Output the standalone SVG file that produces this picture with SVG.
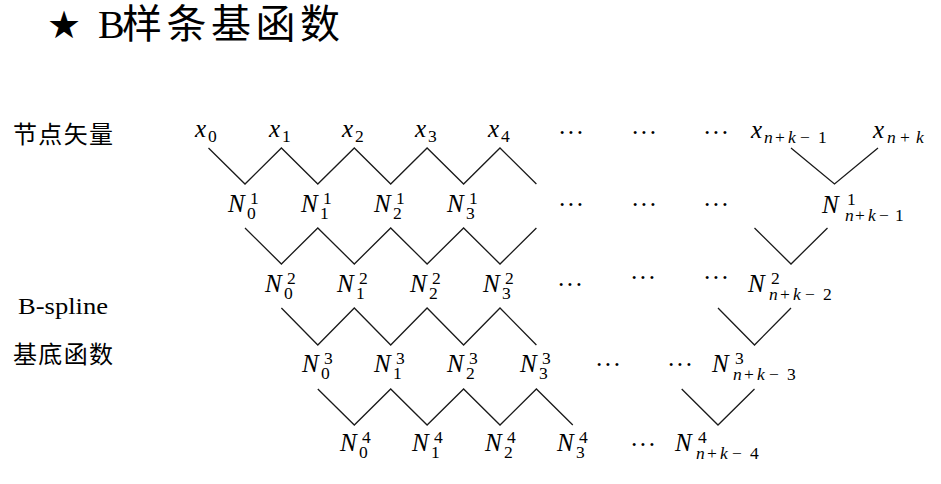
<svg xmlns="http://www.w3.org/2000/svg" width="941" height="484" viewBox="0 0 941 484">
<style>
.bg{fill:#fff}
.m{font-family:"Liberation Serif",serif;font-size:25px;font-style:italic;fill:#000}
.s{font-family:"Liberation Serif",serif;font-size:17.5px;font-style:normal;fill:#000}
.i{font-style:italic}
.dots{font-family:"Liberation Serif",serif;font-size:25px;font-style:normal;fill:#000}
.cjk{font-family:"Noto Sans CJK SC",sans-serif;font-size:24px;fill:#000}
.rm{font-family:"Liberation Serif",serif;font-size:23px;fill:#000}
.title{font-family:"Liberation Serif","Noto Sans CJK SC",serif;font-size:40px;fill:#000}
.star{font-family:"DejaVu Sans",sans-serif;font-size:38px}
.tcjk{font-family:"Noto Sans CJK SC",sans-serif}
.zz{fill:none;stroke:#1a1a1a;stroke-width:1.3;stroke-linejoin:miter}
</style>
<rect class="bg" x="0" y="0" width="941" height="484"/>

<g id="title">
<text class="title" y="38"><tspan class="star" x="47">★</tspan><tspan x="98">B</tspan><tspan class="tcjk" x="122" textLength="218" lengthAdjust="spacing">样条基函数</tspan></text>
</g>

<g id="side-labels">
<text class="cjk" x="13" y="143" textLength="100" lengthAdjust="spacing">节点矢量</text>
<text class="rm" x="18" y="314" textLength="90" lengthAdjust="spacingAndGlyphs">B-spline</text>
<text class="cjk" x="13" y="363" textLength="100" lengthAdjust="spacing">基底函数</text>
</g>

<g id="connectors">
<polyline class="zz" points="208.5,148 245,184 281.4,148 317.8,184 354.3,148 390.7,184 427.1,148 463.6,184 500,148 536.4,184"/>
<polyline class="zz" points="791,148 834.5,184 878,148"/>
<polyline class="zz" points="245,228 281.4,264 317.8,228 354.3,264 390.7,228 427.1,264 463.6,228 500,264 536.4,228"/>
<polyline class="zz" points="754.5,228 791,264 827.5,228"/>
<polyline class="zz" points="281.4,308 317.8,345 354.3,308 390.7,345 427.1,308 463.6,345 500,308 536.4,345"/>
<polyline class="zz" points="718,308 754.5,345 791,308"/>
<polyline class="zz" points="317.8,389 354.3,425 390.7,389 427.1,425 463.6,389 500,425 536.4,389 572.8,425"/>
<polyline class="zz" points="681.7,389 718,425 754.5,389"/>
</g>

<g id="x0"><text class="m" x="195" y="137">x</text><text class="s" x="208" y="141.5">0</text></g>
<g id="x1"><text class="m" x="269" y="137">x</text><text class="s" x="282" y="141.5">1</text></g>
<g id="x2"><text class="m" x="342" y="137">x</text><text class="s" x="355" y="141.5">2</text></g>
<g id="x3"><text class="m" x="415" y="137">x</text><text class="s" x="428" y="141.5">3</text></g>
<g id="x4"><text class="m" x="488" y="137">x</text><text class="s" x="501" y="141.5">4</text></g>
<g id="xnk1"><text class="m" x="751" y="138">x</text><text class="s" y="143"><tspan class="i" x="764">n</tspan><tspan x="775">+</tspan><tspan class="i" x="788">k</tspan><tspan x="800">−</tspan><tspan x="818">1</tspan></text></g>
<g id="xnk"><text class="m" x="873" y="138">x</text><text class="s" y="143"><tspan class="i" x="887">n</tspan><tspan x="900">+</tspan><tspan class="i" x="916">k</tspan></text></g>

<g id="dots-row0">
<text class="dots" x="558" y="141" textLength="26" lengthAdjust="spacing">···</text>
<text class="dots" x="631" y="141" textLength="26" lengthAdjust="spacing">···</text>
<text class="dots" x="703" y="141" textLength="26" lengthAdjust="spacing">···</text>
</g>

<g id="N01"><text class="m" x="228" y="212">N</text><text class="s" x="250" y="204">1</text><text class="s" x="247" y="219">0</text></g>
<g id="N11"><text class="m" x="301" y="212">N</text><text class="s" x="323" y="204">1</text><text class="s" x="320" y="219">1</text></g>
<g id="N21"><text class="m" x="374" y="212">N</text><text class="s" x="396" y="204">1</text><text class="s" x="393" y="219">2</text></g>
<g id="N31"><text class="m" x="447" y="212">N</text><text class="s" x="469" y="204">1</text><text class="s" x="466" y="219">3</text></g>
<g id="Nnk1"><text class="m" x="822" y="213">N</text><text class="s" x="847" y="205">1</text><text class="s" y="221"><tspan class="i" x="845">n</tspan><tspan x="855">+</tspan><tspan class="i" x="868">k</tspan><tspan x="879">−</tspan><tspan x="895">1</tspan></text></g>
<g id="dots-row1">
<text class="dots" x="558" y="213" textLength="26" lengthAdjust="spacing">···</text>
<text class="dots" x="631" y="213" textLength="26" lengthAdjust="spacing">···</text>
<text class="dots" x="703" y="213" textLength="26" lengthAdjust="spacing">···</text>
</g>

<g id="N02"><text class="m" x="265" y="292">N</text><text class="s" x="287" y="284">2</text><text class="s" x="284" y="299">0</text></g>
<g id="N12"><text class="m" x="337" y="292">N</text><text class="s" x="359" y="284">2</text><text class="s" x="356" y="299">1</text></g>
<g id="N22"><text class="m" x="410" y="292">N</text><text class="s" x="432" y="284">2</text><text class="s" x="429" y="299">2</text></g>
<g id="N32"><text class="m" x="483" y="292">N</text><text class="s" x="505" y="284">2</text><text class="s" x="502" y="299">3</text></g>
<g id="Nnk2"><text class="m" x="748" y="292">N</text><text class="s" x="771" y="284">2</text><text class="s" y="300"><tspan class="i" x="769">n</tspan><tspan x="780">+</tspan><tspan class="i" x="793">k</tspan><tspan x="805">−</tspan><tspan x="823">2</tspan></text></g>
<g id="dots-row2">
<text class="dots" x="557" y="293" textLength="26" lengthAdjust="spacing">···</text>
<text class="dots" x="630" y="286" textLength="26" lengthAdjust="spacing">···</text>
<text class="dots" x="703" y="286" textLength="26" lengthAdjust="spacing">···</text>
</g>

<g id="N03"><text class="m" x="302" y="372">N</text><text class="s" x="324" y="364">3</text><text class="s" x="321" y="379">0</text></g>
<g id="N13"><text class="m" x="374" y="372">N</text><text class="s" x="396" y="364">3</text><text class="s" x="393" y="379">1</text></g>
<g id="N23"><text class="m" x="447" y="372">N</text><text class="s" x="469" y="364">3</text><text class="s" x="466" y="379">2</text></g>
<g id="N33"><text class="m" x="520" y="372">N</text><text class="s" x="542" y="364">3</text><text class="s" x="539" y="379">3</text></g>
<g id="Nnk3"><text class="m" x="712" y="372">N</text><text class="s" x="735" y="364">3</text><text class="s" y="380"><tspan class="i" x="733">n</tspan><tspan x="744">+</tspan><tspan class="i" x="757">k</tspan><tspan x="769">−</tspan><tspan x="787">3</tspan></text></g>
<g id="dots-row3">
<text class="dots" x="595" y="373" textLength="26" lengthAdjust="spacing">···</text>
<text class="dots" x="667" y="373" textLength="26" lengthAdjust="spacing">···</text>
</g>

<g id="N04"><text class="m" x="340" y="451">N</text><text class="s" x="362" y="443">4</text><text class="s" x="359" y="458">0</text></g>
<g id="N14"><text class="m" x="412" y="451">N</text><text class="s" x="434" y="443">4</text><text class="s" x="431" y="458">1</text></g>
<g id="N24"><text class="m" x="485" y="451">N</text><text class="s" x="507" y="443">4</text><text class="s" x="504" y="458">2</text></g>
<g id="N34"><text class="m" x="557" y="451">N</text><text class="s" x="579" y="443">4</text><text class="s" x="576" y="458">3</text></g>
<g id="Nnk4"><text class="m" x="675" y="451">N</text><text class="s" x="698" y="443">4</text><text class="s" y="459"><tspan class="i" x="696">n</tspan><tspan x="707">+</tspan><tspan class="i" x="720">k</tspan><tspan x="732">−</tspan><tspan x="750">4</tspan></text></g>
<g id="dots-row4">
<text class="dots" x="630" y="453" textLength="26" lengthAdjust="spacing">···</text>
</g>
</svg>
